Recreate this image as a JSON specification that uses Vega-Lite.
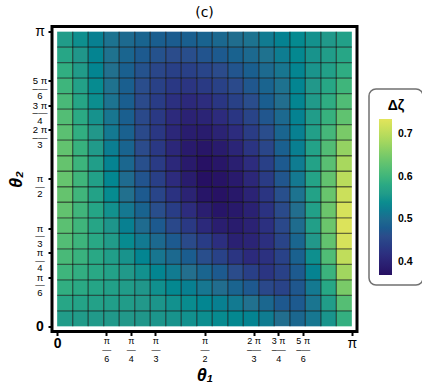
{
"$schema":"https://vega.github.io/schema/vega-lite/v6.json",
"width":305,"height":305,
"autosize":"none",
"padding":{"left":52,"top":26.5,"right":65,"bottom":60.5},
"title":{"text":"(c)","fontSize":14,"fontWeight":"normal","font":"DejaVu Sans","color":"black","offset":5},
"config":{"view":{"stroke":"black","strokeWidth":3},"font":"Liberation Sans"},
"datasets":{
"mesh":[{"m":0.1653},{"m":0.3307},{"m":0.4960},{"m":0.6614},{"m":0.8267},{"m":0.9921},{"m":1.1574},{"m":1.3228},{"m":1.4881},{"m":1.6535},{"m":1.8188},{"m":1.9842},{"m":2.1495},{"m":2.3149},{"m":2.4802},{"m":2.6456},{"m":2.8109},{"m":2.9762}],
"cells":[
{"i":0,"j":0,"z":0.560},{"i":1,"j":0,"z":0.558},{"i":2,"j":0,"z":0.557},{"i":3,"j":0,"z":0.555},{"i":4,"j":0,"z":0.553},{"i":5,"j":0,"z":0.551},{"i":6,"j":0,"z":0.549},{"i":7,"j":0,"z":0.547},{"i":8,"j":0,"z":0.544},{"i":9,"j":0,"z":0.541},{"i":10,"j":0,"z":0.538},{"i":11,"j":0,"z":0.534},{"i":12,"j":0,"z":0.529},{"i":13,"j":0,"z":0.520},{"i":14,"j":0,"z":0.505},{"i":15,"j":0,"z":0.495},{"i":16,"j":0,"z":0.515},{"i":17,"j":0,"z":0.548},{"i":18,"j":0,"z":0.590},
{"i":0,"j":1,"z":0.575},{"i":1,"j":1,"z":0.571},{"i":2,"j":1,"z":0.567},{"i":3,"j":1,"z":0.563},{"i":4,"j":1,"z":0.559},{"i":5,"j":1,"z":0.554},{"i":6,"j":1,"z":0.549},{"i":7,"j":1,"z":0.544},{"i":8,"j":1,"z":0.539},{"i":9,"j":1,"z":0.532},{"i":10,"j":1,"z":0.525},{"i":11,"j":1,"z":0.518},{"i":12,"j":1,"z":0.508},{"i":13,"j":1,"z":0.495},{"i":14,"j":1,"z":0.475},{"i":15,"j":1,"z":0.477},{"i":16,"j":1,"z":0.513},{"i":17,"j":1,"z":0.561},{"i":18,"j":1,"z":0.620},
{"i":0,"j":2,"z":0.587},{"i":1,"j":2,"z":0.580},{"i":2,"j":2,"z":0.573},{"i":3,"j":2,"z":0.566},{"i":4,"j":2,"z":0.559},{"i":5,"j":2,"z":0.551},{"i":6,"j":2,"z":0.543},{"i":7,"j":2,"z":0.534},{"i":8,"j":2,"z":0.525},{"i":9,"j":2,"z":0.515},{"i":10,"j":2,"z":0.504},{"i":11,"j":2,"z":0.491},{"i":12,"j":2,"z":0.476},{"i":13,"j":2,"z":0.455},{"i":14,"j":2,"z":0.447},{"i":15,"j":2,"z":0.474},{"i":16,"j":2,"z":0.517},{"i":17,"j":2,"z":0.576},{"i":18,"j":2,"z":0.650},
{"i":0,"j":3,"z":0.599},{"i":1,"j":3,"z":0.588},{"i":2,"j":3,"z":0.578},{"i":3,"j":3,"z":0.567},{"i":4,"j":3,"z":0.555},{"i":5,"j":3,"z":0.544},{"i":6,"j":3,"z":0.531},{"i":7,"j":3,"z":0.519},{"i":8,"j":3,"z":0.506},{"i":9,"j":3,"z":0.492},{"i":10,"j":3,"z":0.477},{"i":11,"j":3,"z":0.461},{"i":12,"j":3,"z":0.441},{"i":13,"j":3,"z":0.427},{"i":14,"j":3,"z":0.444},{"i":15,"j":3,"z":0.478},{"i":16,"j":3,"z":0.528},{"i":17,"j":3,"z":0.596},{"i":18,"j":3,"z":0.680},
{"i":0,"j":4,"z":0.609},{"i":1,"j":4,"z":0.594},{"i":2,"j":4,"z":0.578},{"i":3,"j":4,"z":0.562},{"i":4,"j":4,"z":0.547},{"i":5,"j":4,"z":0.531},{"i":6,"j":4,"z":0.514},{"i":7,"j":4,"z":0.498},{"i":8,"j":4,"z":0.481},{"i":9,"j":4,"z":0.463},{"i":10,"j":4,"z":0.445},{"i":11,"j":4,"z":0.426},{"i":12,"j":4,"z":0.411},{"i":13,"j":4,"z":0.421},{"i":14,"j":4,"z":0.445},{"i":15,"j":4,"z":0.486},{"i":16,"j":4,"z":0.542},{"i":17,"j":4,"z":0.615},{"i":18,"j":4,"z":0.705},
{"i":0,"j":5,"z":0.618},{"i":1,"j":5,"z":0.598},{"i":2,"j":5,"z":0.578},{"i":3,"j":5,"z":0.558},{"i":4,"j":5,"z":0.538},{"i":5,"j":5,"z":0.518},{"i":6,"j":5,"z":0.498},{"i":7,"j":5,"z":0.477},{"i":8,"j":5,"z":0.457},{"i":9,"j":5,"z":0.437},{"i":10,"j":5,"z":0.417},{"i":11,"j":5,"z":0.397},{"i":12,"j":5,"z":0.402},{"i":13,"j":5,"z":0.418},{"i":14,"j":5,"z":0.448},{"i":15,"j":5,"z":0.493},{"i":16,"j":5,"z":0.553},{"i":17,"j":5,"z":0.631},{"i":18,"j":5,"z":0.725},
{"i":0,"j":6,"z":0.625},{"i":1,"j":6,"z":0.600},{"i":2,"j":6,"z":0.574},{"i":3,"j":6,"z":0.550},{"i":4,"j":6,"z":0.525},{"i":5,"j":6,"z":0.501},{"i":6,"j":6,"z":0.477},{"i":7,"j":6,"z":0.454},{"i":8,"j":6,"z":0.432},{"i":9,"j":6,"z":0.410},{"i":10,"j":6,"z":0.391},{"i":11,"j":6,"z":0.388},{"i":12,"j":6,"z":0.398},{"i":13,"j":6,"z":0.420},{"i":14,"j":6,"z":0.455},{"i":15,"j":6,"z":0.502},{"i":16,"j":6,"z":0.564},{"i":17,"j":6,"z":0.639},{"i":18,"j":6,"z":0.730},
{"i":0,"j":7,"z":0.631},{"i":1,"j":7,"z":0.601},{"i":2,"j":7,"z":0.573},{"i":3,"j":7,"z":0.544},{"i":4,"j":7,"z":0.516},{"i":5,"j":7,"z":0.489},{"i":6,"j":7,"z":0.463},{"i":7,"j":7,"z":0.438},{"i":8,"j":7,"z":0.414},{"i":9,"j":7,"z":0.392},{"i":10,"j":7,"z":0.378},{"i":11,"j":7,"z":0.383},{"i":12,"j":7,"z":0.397},{"i":13,"j":7,"z":0.422},{"i":14,"j":7,"z":0.457},{"i":15,"j":7,"z":0.505},{"i":16,"j":7,"z":0.565},{"i":17,"j":7,"z":0.639},{"i":18,"j":7,"z":0.725},
{"i":0,"j":8,"z":0.634},{"i":1,"j":8,"z":0.601},{"i":2,"j":8,"z":0.569},{"i":3,"j":8,"z":0.537},{"i":4,"j":8,"z":0.507},{"i":5,"j":8,"z":0.477},{"i":6,"j":8,"z":0.450},{"i":7,"j":8,"z":0.423},{"i":8,"j":8,"z":0.399},{"i":9,"j":8,"z":0.378},{"i":10,"j":8,"z":0.373},{"i":11,"j":8,"z":0.382},{"i":12,"j":8,"z":0.400},{"i":13,"j":8,"z":0.427},{"i":14,"j":8,"z":0.464},{"i":15,"j":8,"z":0.511},{"i":16,"j":8,"z":0.569},{"i":17,"j":8,"z":0.637},{"i":18,"j":8,"z":0.715},
{"i":0,"j":9,"z":0.635},{"i":1,"j":9,"z":0.600},{"i":2,"j":9,"z":0.566},{"i":3,"j":9,"z":0.533},{"i":4,"j":9,"z":0.501},{"i":5,"j":9,"z":0.470},{"i":6,"j":9,"z":0.441},{"i":7,"j":9,"z":0.413},{"i":8,"j":9,"z":0.389},{"i":9,"j":9,"z":0.370},{"i":10,"j":9,"z":0.374},{"i":11,"j":9,"z":0.386},{"i":12,"j":9,"z":0.407},{"i":13,"j":9,"z":0.435},{"i":14,"j":9,"z":0.472},{"i":15,"j":9,"z":0.517},{"i":16,"j":9,"z":0.570},{"i":17,"j":9,"z":0.631},{"i":18,"j":9,"z":0.700},
{"i":0,"j":10,"z":0.634},{"i":1,"j":10,"z":0.597},{"i":2,"j":10,"z":0.562},{"i":3,"j":10,"z":0.528},{"i":4,"j":10,"z":0.495},{"i":5,"j":10,"z":0.464},{"i":6,"j":10,"z":0.435},{"i":7,"j":10,"z":0.408},{"i":8,"j":10,"z":0.385},{"i":9,"j":10,"z":0.372},{"i":10,"j":10,"z":0.379},{"i":11,"j":10,"z":0.393},{"i":12,"j":10,"z":0.414},{"i":13,"j":10,"z":0.443},{"i":14,"j":10,"z":0.478},{"i":15,"j":10,"z":0.520},{"i":16,"j":10,"z":0.569},{"i":17,"j":10,"z":0.623},{"i":18,"j":10,"z":0.685},
{"i":0,"j":11,"z":0.631},{"i":1,"j":11,"z":0.593},{"i":2,"j":11,"z":0.557},{"i":3,"j":11,"z":0.523},{"i":4,"j":11,"z":0.490},{"i":5,"j":11,"z":0.459},{"i":6,"j":11,"z":0.431},{"i":7,"j":11,"z":0.406},{"i":8,"j":11,"z":0.386},{"i":9,"j":11,"z":0.379},{"i":10,"j":11,"z":0.387},{"i":11,"j":11,"z":0.403},{"i":12,"j":11,"z":0.425},{"i":13,"j":11,"z":0.452},{"i":14,"j":11,"z":0.485},{"i":15,"j":11,"z":0.524},{"i":16,"j":11,"z":0.568},{"i":17,"j":11,"z":0.617},{"i":18,"j":11,"z":0.670},
{"i":0,"j":12,"z":0.625},{"i":1,"j":12,"z":0.587},{"i":2,"j":12,"z":0.552},{"i":3,"j":12,"z":0.517},{"i":4,"j":12,"z":0.486},{"i":5,"j":12,"z":0.456},{"i":6,"j":12,"z":0.430},{"i":7,"j":12,"z":0.407},{"i":8,"j":12,"z":0.390},{"i":9,"j":12,"z":0.388},{"i":10,"j":12,"z":0.399},{"i":11,"j":12,"z":0.415},{"i":12,"j":12,"z":0.436},{"i":13,"j":12,"z":0.462},{"i":14,"j":12,"z":0.492},{"i":15,"j":12,"z":0.525},{"i":16,"j":12,"z":0.564},{"i":17,"j":12,"z":0.605},{"i":18,"j":12,"z":0.650},
{"i":0,"j":13,"z":0.618},{"i":1,"j":13,"z":0.581},{"i":2,"j":13,"z":0.546},{"i":3,"j":13,"z":0.514},{"i":4,"j":13,"z":0.484},{"i":5,"j":13,"z":0.456},{"i":6,"j":13,"z":0.432},{"i":7,"j":13,"z":0.412},{"i":8,"j":13,"z":0.398},{"i":9,"j":13,"z":0.401},{"i":10,"j":13,"z":0.413},{"i":11,"j":13,"z":0.428},{"i":12,"j":13,"z":0.448},{"i":13,"j":13,"z":0.472},{"i":14,"j":13,"z":0.498},{"i":15,"j":13,"z":0.527},{"i":16,"j":13,"z":0.559},{"i":17,"j":13,"z":0.593},{"i":18,"j":13,"z":0.630},
{"i":0,"j":14,"z":0.609},{"i":1,"j":14,"z":0.574},{"i":2,"j":14,"z":0.541},{"i":3,"j":14,"z":0.511},{"i":4,"j":14,"z":0.483},{"i":5,"j":14,"z":0.458},{"i":6,"j":14,"z":0.437},{"i":7,"j":14,"z":0.420},{"i":8,"j":14,"z":0.410},{"i":9,"j":14,"z":0.416},{"i":10,"j":14,"z":0.428},{"i":11,"j":14,"z":0.444},{"i":12,"j":14,"z":0.462},{"i":13,"j":14,"z":0.483},{"i":14,"j":14,"z":0.505},{"i":15,"j":14,"z":0.530},{"i":16,"j":14,"z":0.557},{"i":17,"j":14,"z":0.585},{"i":18,"j":14,"z":0.615},
{"i":0,"j":15,"z":0.599},{"i":1,"j":15,"z":0.567},{"i":2,"j":15,"z":0.537},{"i":3,"j":15,"z":0.509},{"i":4,"j":15,"z":0.484},{"i":5,"j":15,"z":0.462},{"i":6,"j":15,"z":0.444},{"i":7,"j":15,"z":0.431},{"i":8,"j":15,"z":0.426},{"i":9,"j":15,"z":0.433},{"i":10,"j":15,"z":0.444},{"i":11,"j":15,"z":0.458},{"i":12,"j":15,"z":0.473},{"i":13,"j":15,"z":0.491},{"i":14,"j":15,"z":0.510},{"i":15,"j":15,"z":0.531},{"i":16,"j":15,"z":0.553},{"i":17,"j":15,"z":0.576},{"i":18,"j":15,"z":0.600},
{"i":0,"j":16,"z":0.587},{"i":1,"j":16,"z":0.558},{"i":2,"j":16,"z":0.531},{"i":3,"j":16,"z":0.507},{"i":4,"j":16,"z":0.485},{"i":5,"j":16,"z":0.467},{"i":6,"j":16,"z":0.452},{"i":7,"j":16,"z":0.442},{"i":8,"j":16,"z":0.442},{"i":9,"j":16,"z":0.450},{"i":10,"j":16,"z":0.459},{"i":11,"j":16,"z":0.471},{"i":12,"j":16,"z":0.484},{"i":13,"j":16,"z":0.499},{"i":14,"j":16,"z":0.514},{"i":15,"j":16,"z":0.530},{"i":16,"j":16,"z":0.548},{"i":17,"j":16,"z":0.566},{"i":18,"j":16,"z":0.585},
{"i":0,"j":17,"z":0.575},{"i":1,"j":17,"z":0.551},{"i":2,"j":17,"z":0.529},{"i":3,"j":17,"z":0.509},{"i":4,"j":17,"z":0.492},{"i":5,"j":17,"z":0.478},{"i":6,"j":17,"z":0.467},{"i":7,"j":17,"z":0.461},{"i":8,"j":17,"z":0.463},{"i":9,"j":17,"z":0.470},{"i":10,"j":17,"z":0.478},{"i":11,"j":17,"z":0.488},{"i":12,"j":17,"z":0.498},{"i":13,"j":17,"z":0.509},{"i":14,"j":17,"z":0.521},{"i":15,"j":17,"z":0.534},{"i":16,"j":17,"z":0.547},{"i":17,"j":17,"z":0.561},{"i":18,"j":17,"z":0.575},
{"i":0,"j":18,"z":0.560},{"i":1,"j":18,"z":0.542},{"i":2,"j":18,"z":0.525},{"i":3,"j":18,"z":0.511},{"i":4,"j":18,"z":0.499},{"i":5,"j":18,"z":0.490},{"i":6,"j":18,"z":0.483},{"i":7,"j":18,"z":0.480},{"i":8,"j":18,"z":0.484},{"i":9,"j":18,"z":0.489},{"i":10,"j":18,"z":0.496},{"i":11,"j":18,"z":0.503},{"i":12,"j":18,"z":0.511},{"i":13,"j":18,"z":0.519},{"i":14,"j":18,"z":0.527},{"i":15,"j":18,"z":0.536},{"i":16,"j":18,"z":0.545},{"i":17,"j":18,"z":0.555},{"i":18,"j":18,"z":0.565}
]},
"layer":[
{"data":{"name":"cells"},"mark":{"type":"rect"},
 "encoding":{
  "x":{"field":"i","type":"ordinal","scale":{"paddingInner":0,"paddingOuter":0.3325},"axis":null},
  "y":{"field":"j","type":"ordinal","sort":"descending","scale":{"paddingInner":0,"paddingOuter":0.3325},"axis":null},
  "color":{"field":"z","type":"quantitative",
   "scale":{"domain":[0.369,0.735],"range":["#260f62","#2d2c7e","#2b4c8b","#236f8e","#22978a","#3db47c","#70c76a","#aed95d","#e2e45b"],"clamp":true},
   "legend":{"title":"Δζ","orient":"none","legendX":317,"legendY":62.5,"direction":"vertical","gradientLength":156,"gradientThickness":13,"gradientStrokeWidth":0,"values":[0.4,0.5,0.6,0.7],"labelFontSize":10.5,"labelFontWeight":"bold","labelColor":"black","labelOffset":6,"padding":10,"strokeColor":"#707070","cornerRadius":7,"fillColor":"white","titleFontSize":14,"titleFontWeight":"bold","titleColor":"black","titleAnchor":"middle","titlePadding":6,
    "encode":{"legend":{"update":{"strokeWidth":{"value":1.5}}}}}}}},
{"data":{"name":"mesh"},"mark":{"type":"rule","color":"black","strokeOpacity":0.55,"strokeWidth":1.3},
 "encoding":{
  "x":{"field":"m","type":"quantitative","scale":{"domain":[-0.05498,3.19657],"nice":false,"zero":false},
   "axis":{"orient":"bottom","values":[0,0.5236,0.7854,1.0472,1.5708,2.0944,2.3562,2.618,3.1416],
    "labelExpr":"datum.value < 0.1 ? '0' : datum.value < 0.6 ? ['π','—','6'] : datum.value < 0.9 ? ['π','—','4'] : datum.value < 1.2 ? ['π','—','3'] : datum.value < 1.7 ? ['π','—','2'] : datum.value < 2.2 ? ['2 π','–—','3'] : datum.value < 2.5 ? ['3 π','–—','4'] : datum.value < 3 ? ['5 π','–—','6'] : 'π'",
    "labelFontSize":{"condition":{"test":"datum.value < 0.1 || datum.value > 3","value":14},"value":9},
    "labelFontWeight":{"condition":{"test":"datum.value < 0.1","value":"bold"},"value":"normal"},
    "labelLineHeight":9,"labelPadding":1,"labelOverlap":false,"labelBound":false,"labelFlush":false,"labelColor":"black",
    "domain":false,"grid":false,"ticks":true,"tickSize":4,"tickWidth":2,"tickColor":"black",
    "title":"θ₁","titleFontSize":18,"titleFontWeight":"bold","titleFontStyle":"italic","titleColor":"black","titlePadding":3}},
  "y":{"datum":0,"type":"quantitative","scale":{"domain":[-0.05498,3.19657],"nice":false,"zero":false},"axis":null},
  "y2":{"datum":3.14159}}},
{"data":{"name":"mesh"},"mark":{"type":"rule","color":"black","strokeOpacity":0.55,"strokeWidth":1.3},
 "encoding":{
  "y":{"field":"m","type":"quantitative","scale":{"domain":[-0.05498,3.19657],"nice":false,"zero":false},
   "axis":{"orient":"left","values":[0,0.5236,0.7854,1.0472,1.5708,2.0944,2.3562,2.618,3.1416],
    "labelExpr":"datum.value < 0.1 ? '0' : datum.value < 0.6 ? ['π','—','6'] : datum.value < 0.9 ? ['π','—','4'] : datum.value < 1.2 ? ['π','—','3'] : datum.value < 1.7 ? ['π','—','2'] : datum.value < 2.2 ? ['2 π','–—','3'] : datum.value < 2.5 ? ['3 π','–—','4'] : datum.value < 3 ? ['5 π','–—','6'] : 'π'",
    "labelFontSize":{"condition":{"test":"datum.value < 0.1 || datum.value > 3","value":14},"value":9.5},
    "labelFontWeight":{"condition":{"test":"datum.value < 0.1","value":"bold"},"value":"normal"},
    "labelAlign":"center","labelLineHeight":7.5,"labelPadding":8.5,"labelOverlap":false,"labelBound":false,"labelFlush":false,"labelColor":"black",
    "domain":false,"grid":false,"ticks":true,"tickSize":4,"tickWidth":2,"tickColor":"black",
    "title":"θ₂","titleFontSize":18,"titleFontWeight":"bold","titleFontStyle":"italic","titleColor":"black","titlePadding":7}},
  "x":{"datum":0,"type":"quantitative","scale":{"domain":[-0.05498,3.19657],"nice":false,"zero":false},"axis":null},
  "x2":{"datum":3.14159}}}
],
"resolve":{"scale":{"x":"independent","y":"independent"}}
}
